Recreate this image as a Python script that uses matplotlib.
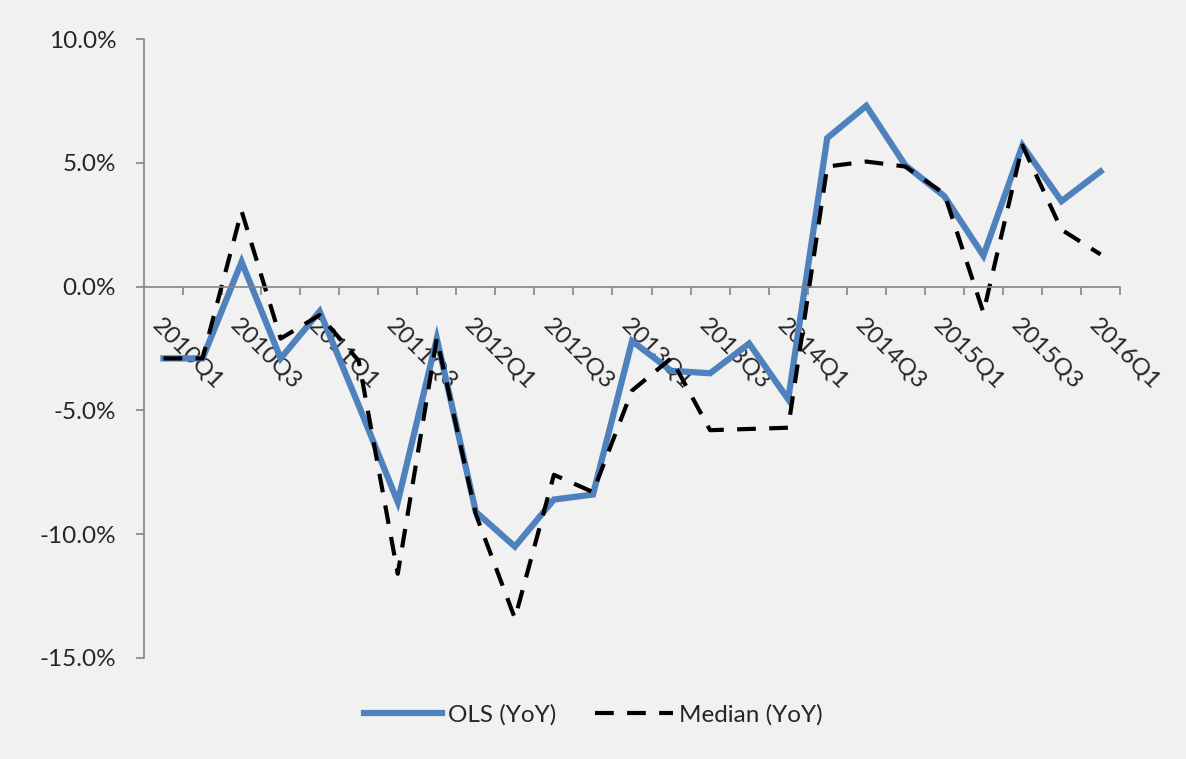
import numpy as np
import matplotlib.pyplot as plt
from matplotlib.ticker import FuncFormatter

quarters = ['2010Q1', '2010Q2', '2010Q3', '2010Q4', '2011Q1', '2011Q2', '2011Q3', '2011Q4',
            '2012Q1', '2012Q2', '2012Q3', '2012Q4', '2013Q1', '2013Q2', '2013Q3', '2013Q4',
            '2014Q1', '2014Q2', '2014Q3', '2014Q4', '2015Q1', '2015Q2', '2015Q3', '2015Q4',
            '2016Q1']
ols = [-2.9, -2.9, 1.0, -2.9, -1.0, -4.8, -8.7, -2.1, -9.1, -10.5, -8.6, -8.4, -2.2,
       -3.4, -3.5, -2.3, -4.55, 6.0, 7.3, 4.9, 3.65, 1.25, 5.7, 3.45, 4.65]
median = [-2.9, -2.9, 3.05, -2.1, -1.15, -3.0, -11.6, -2.1, -9.2, -13.4, -7.6, -8.3, -4.2,
          -2.9, -5.8, -5.75, -5.7, 4.85, 5.05, 4.85, 3.75, -1.05, 5.7, 2.3, 1.3]
y_ticks = [-15, -10, -5, 0, 5, 10]

bg = '#f1f1f1'
axis_col = '#868686'
text_col = '#262626'
fs = 17.5
plt.rcParams['font.family'] = ['Lato', 'DejaVu Sans']

fig = plt.figure(figsize=(11.86, 7.59), dpi=100, facecolor=bg)
ax = fig.add_axes([0.1214, 0.1331, 0.8230, 0.8155])
ax.set_facecolor(bg)

x = np.arange(len(quarters))
ax.plot(x, ols, color='#4f81bd', lw=4.5, solid_joinstyle='miter', label='OLS (YoY)')
ax.plot(x, median, color='black', lw=3, dashes=(4.5, 3.2), label='Median (YoY)')

ax.set_xlim(-0.5, len(quarters) - 0.5)
ax.set_ylim(-15, 10)
ax.set_yticks(y_ticks)
ax.yaxis.set_major_formatter(FuncFormatter(lambda v, p: f'{v:.1f}%'))

for s in ['top', 'right']:
    ax.spines[s].set_visible(False)
ax.spines['bottom'].set_position(('data', 0))
for s in ['left', 'bottom']:
    ax.spines[s].set_color(axis_col)
    ax.spines[s].set_linewidth(1.2)

# labels every other quarter, tick marks between categories
ax.set_xticks(x[::2])
ax.set_xticklabels(quarters[::2], rotation=-45, ha='left', va='top',
                   rotation_mode='anchor', fontsize=fs, color=text_col)
ax.set_xticks(np.arange(0.5, len(quarters), 1), minor=True)
ax.tick_params(axis='x', which='major', length=0, pad=20)
ax.tick_params(axis='x', which='minor', length=6, color=axis_col, width=1.2)
ax.tick_params(axis='y', length=6, color=axis_col, width=1.2, labelsize=fs,
               labelcolor=text_col, pad=14)

fig.legend(loc='lower center', bbox_to_anchor=(0.5, 0.015), ncol=2, frameon=False,
           fontsize=fs, handlelength=3.2, handletextpad=0.25, columnspacing=1.6,
           labelcolor=text_col)

fig.savefig('out.png', dpi=100, facecolor=bg)
